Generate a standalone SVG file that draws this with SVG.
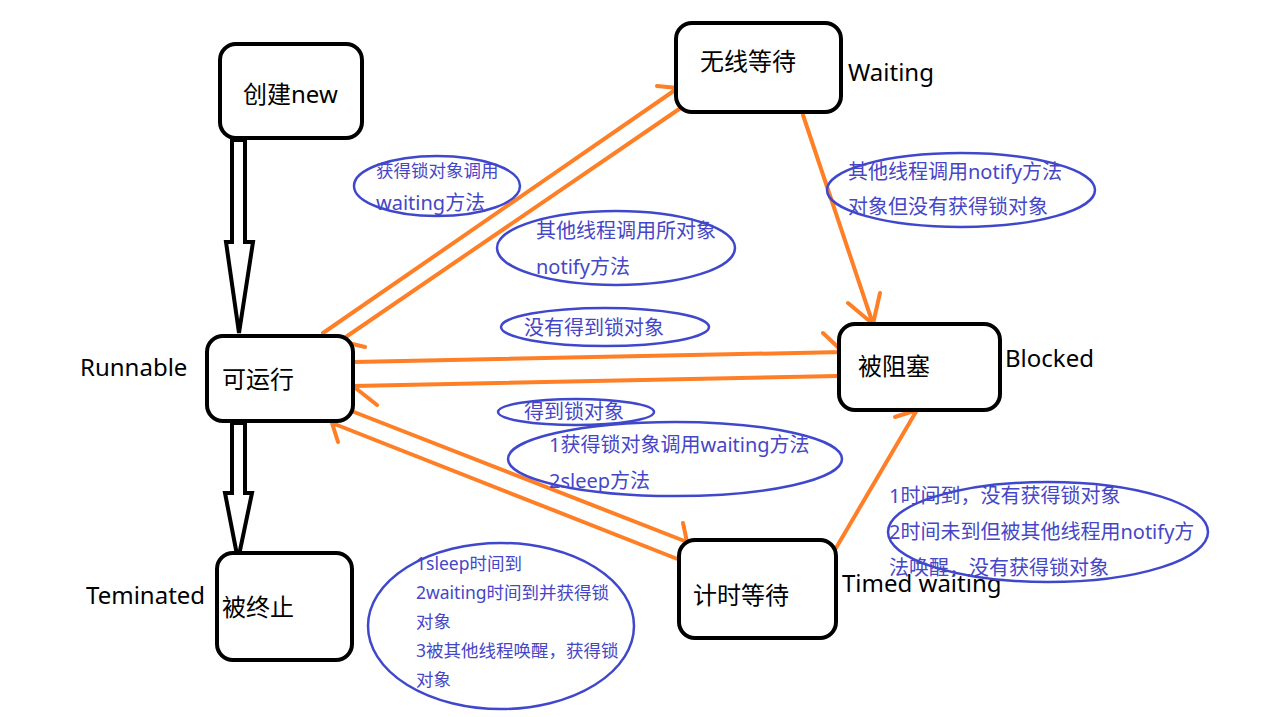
<svg xmlns="http://www.w3.org/2000/svg" width="1280" height="717" viewBox="0 0 1280 717">
<style>
.node rect{fill:#fff;stroke:#000;stroke-width:4}
.nt{font-family:"Noto Sans","Noto Sans CJK SC",sans-serif;font-size:24px;fill:#000}
.lb{font-family:"Noto Sans","Noto Sans CJK SC",sans-serif;font-size:24px;fill:#000}
.o{fill:none;stroke:#ff7f27;stroke-width:4;stroke-linecap:round;stroke-linejoin:round}
.h{fill:#fff;stroke:#000;stroke-width:4;stroke-linejoin:miter}
.el{fill:none;stroke:#3f48cc;stroke-width:2.5}
.bt{font-family:"Noto Sans","Noto Sans CJK SC",sans-serif;font-size:20px;fill:#4646c8}
.bs{font-family:"Noto Sans","Noto Sans CJK SC",sans-serif;font-size:17.5px;fill:#4646c8}
</style>
<rect width="1280" height="717" fill="#fff"/>
<g id="connectors">
<polygon class="h" points="232,140 245,140 245,242 253,242 239,333 226,242 232,242"/>
<polygon class="h" points="232,423 245,423 245,493 252,493 238,560 225,493 232,493"/>
<path class="o" d="M323,333 L678,88 L657,86"/>
<path class="o" d="M685,105 L340,341 L365,347"/>
<path class="o" d="M803,115 L873,324 M848,303 L873,324 L880,293"/>
<path class="o" d="M354,362 L843,352 L823,333"/>
<path class="o" d="M838,376 L353,386 L377,405"/>
<path class="o" d="M354,412 L687,542 L683,523"/>
<path class="o" d="M680,560 L332,423 L338,442"/>
<path class="o" d="M836,548 L917,410 L895,417"/>
</g>
<g id="n-new" class="node"><rect x="220" y="44" width="142" height="94" rx="16"/><text class="nt" x="243" y="103">创建new</text></g>
<g id="n-runnable" class="node"><rect x="207" y="336" width="146" height="85" rx="16"/><text class="nt" x="222" y="388">可运行</text></g>
<g id="n-terminated" class="node"><rect x="217" y="553" width="135" height="107" rx="16"/><text class="nt" x="222" y="616">被终止</text></g>
<g id="n-waiting" class="node"><rect x="676" y="23" width="165" height="89" rx="16"/><text class="nt" x="700" y="70">无线等待</text></g>
<g id="n-blocked" class="node"><rect x="839" y="324" width="161" height="86" rx="16"/><text class="nt" x="858" y="375">被阻塞</text></g>
<g id="n-timed" class="node"><rect x="679" y="540" width="157" height="98" rx="16"/><text class="nt" x="693" y="604">计时等待</text></g>
<g id="labels">
<text class="lb" x="80" y="376">Runnable</text>
<text class="lb" x="848" y="81">Waiting</text>
<text class="lb" x="1005" y="367">Blocked</text>
<text class="lb" x="86" y="604">Teminated</text>
<text class="lb" x="842" y="592">Timed waiting</text>
</g>
<g id="note-a"><ellipse class="el" cx="437" cy="186" rx="83" ry="30"/><text class="bs" x="376" y="177">获得锁对象调用</text><text class="bt" x="376" y="210">waiting方法</text></g>
<g id="note-b"><ellipse class="el" cx="616" cy="248" rx="119" ry="37"/><text class="bt" x="536" y="238">其他线程调用所对象</text><text class="bt" x="536" y="274">notify方法</text></g>
<g id="note-c"><ellipse class="el" cx="961" cy="190" rx="134" ry="37"/><text class="bt" x="848" y="179">其他线程调用notify方法</text><text class="bt" x="848" y="214">对象但没有获得锁对象</text></g>
<g id="note-d"><ellipse class="el" cx="605" cy="327" rx="104" ry="19"/><text class="bt" x="524" y="335">没有得到锁对象</text></g>
<g id="note-e"><ellipse class="el" cx="576" cy="412" rx="78" ry="13"/><text class="bt" x="524" y="419">得到锁对象</text></g>
<g id="note-f"><ellipse class="el" cx="675" cy="459" rx="167" ry="37"/><text class="bt" x="549" y="452">1获得锁对象调用waiting方法</text><text class="bt" x="549" y="488">2sleep方法</text></g>
<g id="note-g"><ellipse class="el" cx="1048" cy="532" rx="160" ry="50"/><text class="bt" x="889" y="503">1时间到，没有获得锁对象</text><text class="bt" x="889" y="539">2时间未到但被其他线程用notify方</text><text class="bt" x="889" y="575">法唤醒，没有获得锁对象</text></g>
<g id="note-h"><ellipse class="el" cx="501" cy="626" rx="133" ry="83"/><text class="bs" x="416" y="570">1sleep时间到</text><text class="bs" x="416" y="599">2waiting时间到并获得锁</text><text class="bs" x="416" y="628">对象</text><text class="bs" x="416" y="657">3被其他线程唤醒，获得锁</text><text class="bs" x="416" y="686">对象</text></g>
</svg>
